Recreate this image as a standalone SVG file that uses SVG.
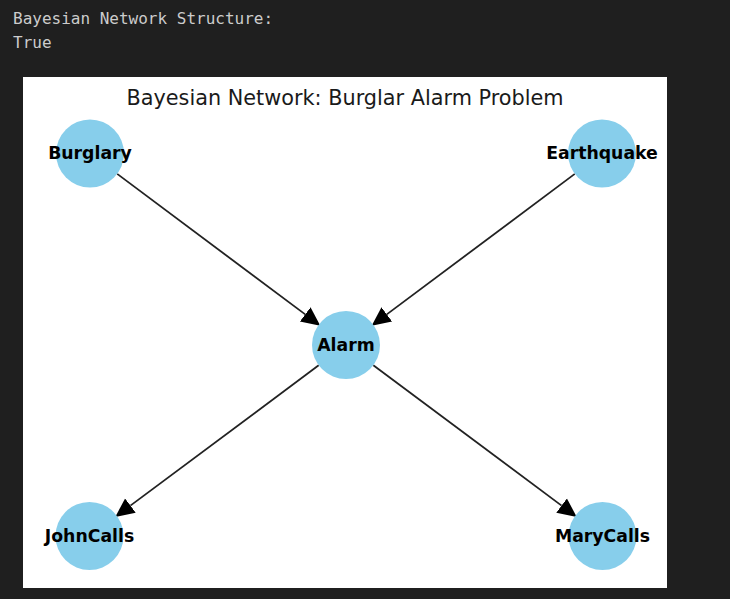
<svg xmlns="http://www.w3.org/2000/svg" width="730" height="599" viewBox="0 0 730 599">
<style>
.out{font-family:"DejaVu Sans Mono","Liberation Mono",monospace;font-size:16px;fill:#cccccc}
.title{font-family:"DejaVu Sans",sans-serif;font-size:20.8px;fill:#1a1a1a;text-anchor:middle}
.node circle{fill:#87ceeb}
.node text{font-family:"DejaVu Sans",sans-serif;font-weight:bold;font-size:17.3px;fill:#000;text-anchor:middle;dominant-baseline:central}
.edge{stroke:#222;stroke-width:1.8;fill:none;marker-end:url(#ah)}
</style>
<defs>
<marker id="ah" markerUnits="userSpaceOnUse" markerWidth="20" markerHeight="20" viewBox="0 -9 18 18" refX="0" refY="0" orient="auto">
<path d="M0,-8 L17,0 L0,8 z" fill="#000"/>
</marker>
</defs>
<rect width="730" height="599" fill="#1f1f1f"/>
<text class="out" x="13" y="24">Bayesian Network Structure:</text>
<text class="out" x="13" y="48">True</text>
<rect x="23" y="77" width="644" height="511" fill="#ffffff"/>
<text class="title" x="345" y="105">Bayesian Network: Burglar Alarm Problem</text>
<g id="edges">
<line class="edge" x1="117.2" y1="173.9" x2="305.2" y2="314.4"/>
<line class="edge" x1="574.8" y1="173.9" x2="386.8" y2="314.4"/>
<line class="edge" x1="318.7" y1="365.3" x2="130.4" y2="505.6"/>
<line class="edge" x1="373.3" y1="365.3" x2="561.6" y2="505.6"/>
</g>
<g id="burglary" class="node"><circle cx="90" cy="153.5" r="34"/><text x="90" y="153">Burglary</text></g>
<g id="earthquake" class="node"><circle cx="602" cy="153.5" r="34"/><text x="602" y="153">Earthquake</text></g>
<g id="alarm" class="node"><circle cx="346" cy="345" r="34"/><text x="346" y="344.5">Alarm</text></g>
<g id="johncalls" class="node"><circle cx="89.5" cy="536" r="34"/><text x="89.5" y="535.5">JohnCalls</text></g>
<g id="marycalls" class="node"><circle cx="602.5" cy="536" r="34"/><text x="602.5" y="535.5">MaryCalls</text></g>
</svg>
